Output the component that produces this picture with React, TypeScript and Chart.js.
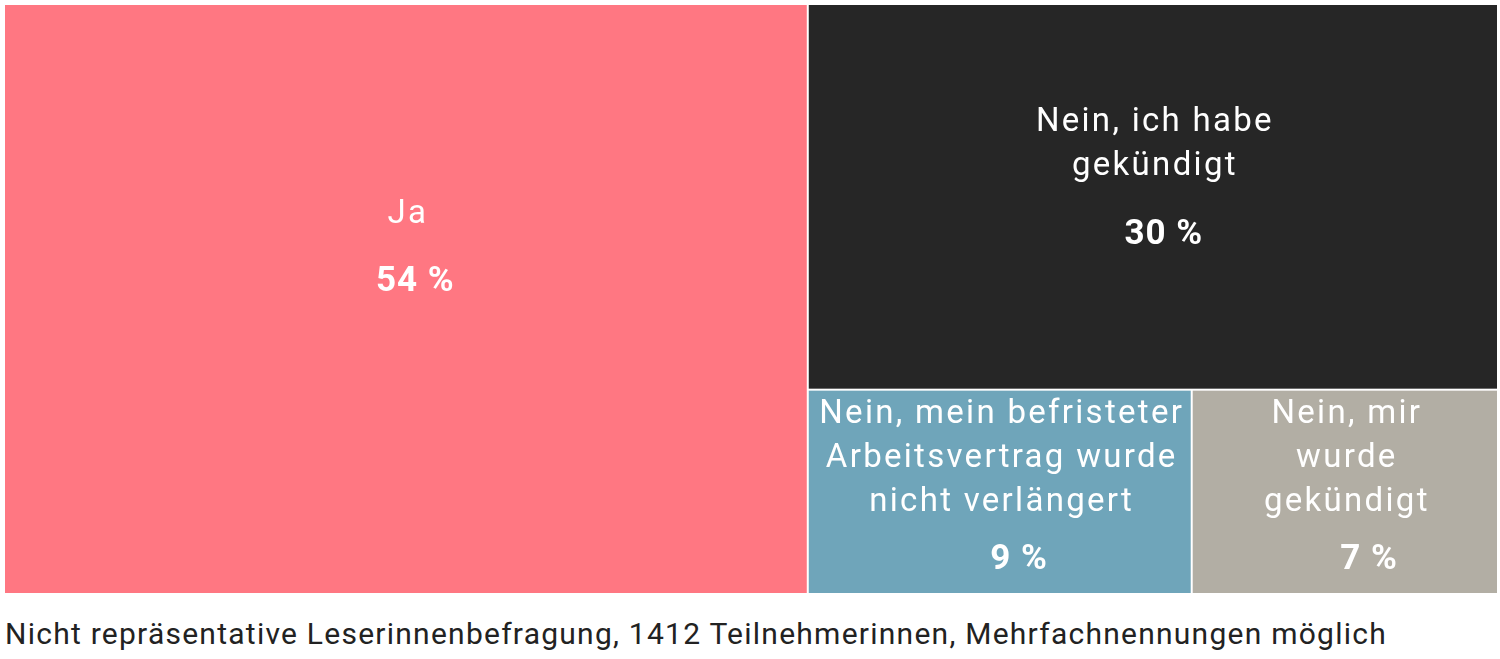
import { useEffect, useRef } from "react"
import { Chart, registerables } from "chart.js"

Chart.register(...registerables)

// Treemap data (shares in percent, shown rounded)
const categories = [
  ["Ja"],
  ["Nein, ich habe", "gekündigt"],
  ["Nein, mein befristeter", "Arbeitsvertrag wurde", "nicht verlängert"],
  ["Nein, mir", "wurde", "gekündigt"],
]
const shares = [53.8, 30.2, 8.9, 7.1]
const colors = ["#ff7782", "#262626", "#6fa5ba", "#b2aea4"]

const FONT = "Roboto, 'Noto Sans', sans-serif"

type Cell = { i: number; x0: number; x1: number; y0: number; y1: number }

// binary split layout in value space (0..100 on both axes)
function layout(idx: number[], x0: number, x1: number, y0: number, y1: number, depth: number, out: Cell[]) {
  if (idx.length === 1) {
    out.push({ i: idx[0], x0, x1, y0, y1 })
    return
  }
  const total = idx.reduce((s, i) => s + shares[i], 0)
  let acc = 0
  let k = 1
  let best = Infinity
  for (let j = 0; j < idx.length - 1; j++) {
    acc += shares[idx[j]]
    const d = Math.abs(acc - total / 2)
    if (d < best) {
      best = d
      k = j + 1
    }
  }
  const a = idx.slice(0, k)
  const b = idx.slice(k)
  const frac = a.reduce((s, i) => s + shares[i], 0) / total
  if (depth % 2 === 0) {
    const xm = x0 + (x1 - x0) * frac
    layout(a, x0, xm, y0, y1, depth + 1, out)
    layout(b, xm, x1, y0, y1, depth + 1, out)
  } else {
    const ym = y1 - (y1 - y0) * frac
    layout(a, x0, x1, ym, y1, depth + 1, out)
    layout(b, x0, x1, y0, ym, depth + 1, out)
  }
}

const treemapPlugin = {
  id: "treemap",
  afterDatasetsDraw(chart: Chart) {
    const { ctx } = chart
    const xs = chart.scales.x
    const ys = chart.scales.y
    const cells: Cell[] = []
    layout(shares.map((_, i) => i), 0, 100, 0, 100, 0, cells)
    ctx.save()
    for (const c of cells) {
      const left = xs.getPixelForValue(c.x0) + 1
      const right = xs.getPixelForValue(c.x1) - 1
      const top = ys.getPixelForValue(c.y1) + 1
      const bottom = ys.getPixelForValue(c.y0) - 1
      ctx.fillStyle = colors[c.i]
      ctx.fillRect(left, top, right - left, bottom - top)

      const lines = categories[c.i]
      const n = lines.length
      const w = right - left
      const h = bottom - top
      const lineH = 44
      let first = top + 3 + (h - n * lineH + 16) * 0.369
      let last = first + (n - 1) * lineH
      let pct = last + 68
      if (pct > bottom - 33) {
        pct = bottom - 33
        last = Math.min(last, pct - 57)
        first = last - (n - 1) * lineH
      }
      const cx = (left + right) / 2
      ctx.fillStyle = "#ffffff"
      ctx.textAlign = "center"
      ctx.textBaseline = "middle"
      ctx.font = `400 33px ${FONT}`
      ;(ctx as any).letterSpacing = "2.3px"
      lines.forEach((l, j) => ctx.fillText(l, cx + 2, first + j * lineH))
      ctx.font = `700 35px ${FONT}`
      ;(ctx as any).letterSpacing = "1px"
      ctx.fillText(`${Math.round(shares[c.i])} %`, cx + 0.5 + 7200 / w, pct)
    }
    ctx.restore()
  },
}

export default function App() {
  const chartRef = useRef<HTMLCanvasElement>(null)
  const chartInstance = useRef<Chart | null>(null)

  useEffect(() => {
    if (!chartRef.current) return
    if (chartInstance.current) chartInstance.current.destroy()
    const ctx = chartRef.current.getContext("2d")
    if (!ctx) return

    chartInstance.current = new Chart(ctx, {
      type: "scatter",
      data: { datasets: [{ data: [] }] },
      options: {
        responsive: true,
        maintainAspectRatio: false,
        animation: false,
        layout: { padding: 0 },
        scales: {
          x: { type: "linear", min: 0, max: 100, display: false },
          y: { type: "linear", min: 0, max: 100, display: false },
        },
        plugins: { legend: { display: false }, tooltip: { enabled: false } },
      },
      plugins: [treemapPlugin],
    })

    return () => {
      if (chartInstance.current) {
        chartInstance.current.destroy()
        chartInstance.current = null
      }
    }
  }, [])

  return (
    <div style={{ position: "absolute", left: 0, top: 0, width: 1500, height: 659, background: "#fff" }}>
      <div style={{ position: "absolute", left: 4, top: 4, width: 1494, height: 590 }}>
        <canvas ref={chartRef}></canvas>
      </div>
      <div
        style={{
          position: "absolute",
          left: 5,
          top: 617,
          fontFamily: FONT,
          fontSize: 30,
          letterSpacing: "1.25px",
          lineHeight: "34px",
          color: "#222",
          whiteSpace: "nowrap",
        }}
      >
        Nicht repräsentative Leserinnenbefragung, 1412 Teilnehmerinnen, Mehrfachnennungen möglich
      </div>
    </div>
  )
}
